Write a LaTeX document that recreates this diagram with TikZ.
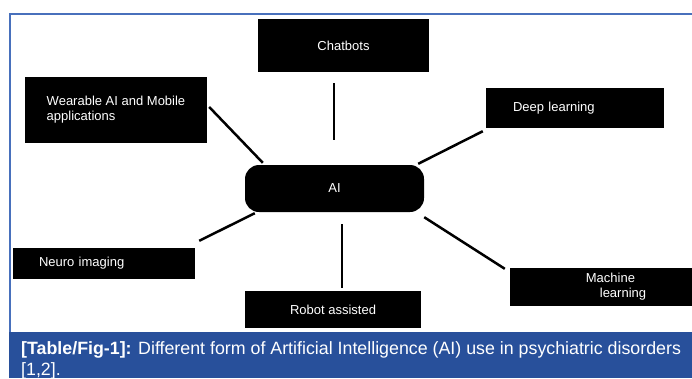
\documentclass[tikz,border=0pt]{standalone}
\usepackage{fontspec}
\setmainfont{Liberation Sans}
\usetikzlibrary{positioning}
\definecolor{capblue}{RGB}{40,80,155}
\definecolor{rimblue}{RGB}{72,112,188}
\tikzset{
  box/.style={rectangle, fill=black, text=white, inner sep=0pt, font=\fontsize{13}{15}\selectfont},
  hub/.style={rectangle, rounded corners=14pt, fill=black, text=white, minimum width=179pt, minimum height=47pt, font=\fontsize{13}{15}\selectfont},
  link/.style={line width=2.5pt},
  rim/.style={draw=rimblue, line width=1.5pt}
}
\begin{document}
\begin{tikzpicture}[x=1pt, y=-1pt]
	\useasboundingbox (0,0) rectangle (692,378);
	%
	\draw[rim] (700,14) -- (10,14) -- (10,332);
	\fill[capblue] (9,332) rectangle (700,378);
	\node[anchor=north west, inner sep=0pt, text=white, align=left, font=\fontsize{17.8}{21}\selectfont] (caption) at (21,341) {\textbf{[Table/Fig-1]:} Different form of Artificial Intelligence (AI) use in psychiatric disorders\\{[1,2].}};
	%
	\node[hub] (ai) at (334.5,188.5) {AI};
	\node[box, minimum width=171pt, minimum height=53pt] (chat) at (343.5,45.5) {Chatbots};
	\node[box, minimum width=182pt, minimum height=66pt, align=left] (wear) at (116,110) {Wearable AI and Mobile\\applications};
	\node[box, minimum height=40pt, text width=124pt, inner xsep=27pt, align=left] (deep) at (575,108) {Deep learning};
	\node[box, minimum height=31pt, text width=130pt, inner xsep=26pt, align=left] (neuro) at (104,263.5) {Neuro imaging};
	\node[box, minimum width=176pt, minimum height=37pt] (robot) at (333,309.5) {Robot assisted};
	\node[box, minimum width=212pt, minimum height=38pt, align=left] (mach) at (616,287) {Machine\\\hspace*{14pt}learning};
	%
	\draw[link] ([shift={(2,-3)}]wear.east) -- ([shift={(18,-2)}]ai.north west);
	\draw[link] ([shift={(-9.5,11)}]chat.south) -- ([shift={(-0.5,-25)}]ai.north);
	\draw[link] ([shift={(-3,3)}]deep.south west) -- ([shift={(-6,-1)}]ai.north east);
	\draw[link] ([shift={(4,-7)}]neuro.north east) -- ([shift={(10,1)}]ai.south west);
	\draw[link] ([shift={(9,-3)}]robot.north) -- ([shift={(7.5,12)}]ai.south);
	\draw[link] ([shift={(-5,1)}]mach.north west) -- ([shift={(0,5)}]ai.south east);
\end{tikzpicture}
\end{document}
